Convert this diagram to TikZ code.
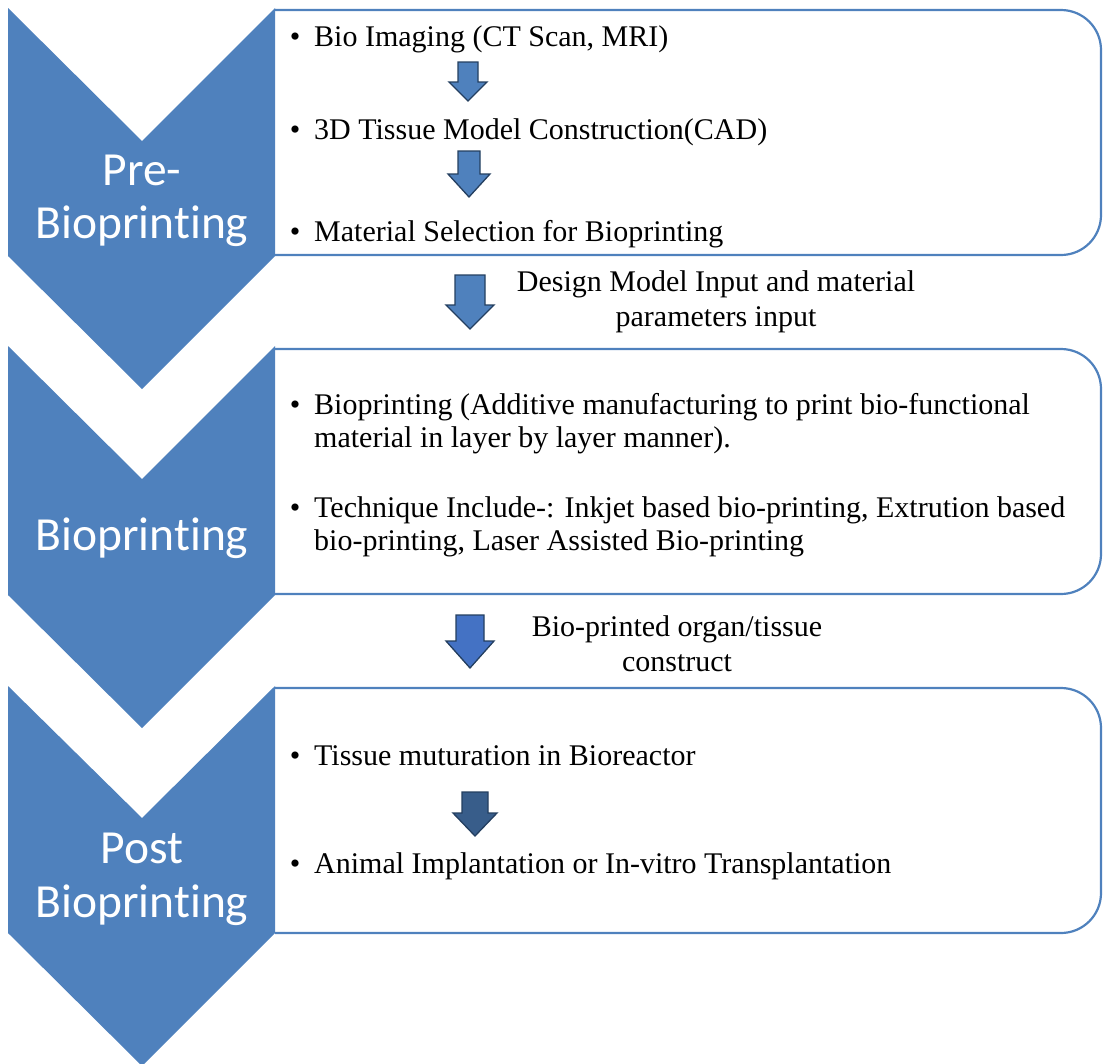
\documentclass[tikz,border=0pt]{standalone}
\usepackage{fontspec}
\setmainfont{Liberation Serif}
\newfontfamily\chevfont[Ligatures=NoCommon]{Carlito}
\definecolor{chevblue}{HTML}{4F81BD}
\definecolor{arrowA}{HTML}{4F81BD}
\definecolor{arrowB}{HTML}{4472C4}
\definecolor{arrowC}{HTML}{385D8A}
\definecolor{arrowline}{HTML}{243F60}
\tikzset{
  chevron/.style={fill=chevblue, draw=none},
  stagebox/.style={draw=chevblue, line width=2.2pt, rounded corners=40pt},
  bul/.style={anchor=base, inner sep=0pt, font=\fontsize{30}{33}\selectfont},
  item/.style={anchor=base west, inner sep=0pt, align=left, font=\fontsize{30}{33}\selectfont},
  midlabel/.style={anchor=base, inner sep=0pt, align=center, font=\fontsize{30}{35}\selectfont},
  chevlabel/.style={anchor=base, inner sep=0pt, text=white, align=center, font=\chevfont\fontsize{47.5}{53}\selectfont},
  blockarrow/.style={draw=arrowline, line width=1.3pt, line join=miter}
}
% \barrow{cx}{top}{headstart}{tip}{halfshaft}{halfhead}{colour}
\newcommand{\barrow}[7]{%
  \fill[#7] (#1-#5,-#2) -- (#1+#5,-#2) -- (#1+#5,-#3) -- (#1+#6,-#3) -- (#1,-#4) -- (#1-#6,-#3) -- (#1-#5,-#3) -- cycle;
  \draw[blockarrow] (#1-#5,-#2) -- (#1+#5,-#2) -- (#1+#5,-#3) -- (#1+#6,-#3) -- (#1,-#4) -- (#1-#6,-#3) -- (#1-#5,-#3) -- cycle;
}
\begin{document}
\begin{tikzpicture}[x=1pt,y=1pt]
\useasboundingbox (0,0) rectangle (1103,-1063);
% chevrons
\fill[chevron] (8,-8) -- (142,-141) -- (275,-8) -- (275,-256) -- (142,-389) -- (8,-256) -- cycle;
\fill[chevron] (8,-346) -- (142,-479) -- (275,-346) -- (275,-595) -- (142,-728) -- (8,-595) -- cycle;
\fill[chevron] (8,-686) -- (142,-818) -- (275,-686) -- (275,-933) -- (142,-1066) -- (8,-933) -- cycle;
% boxes
\draw[stagebox] (275,-10) -- (1101,-10) -- (1101,-255) -- (275,-255);
\draw[stagebox] (275,-349) -- (1101,-349) -- (1101,-594) -- (275,-594);
\draw[stagebox] (275,-688) -- (1101,-688) -- (1101,-933) -- (275,-933);
% chevron labels
\node[chevlabel] (pre1) at (142,-185) {Pre-};
\node[chevlabel] (pre2) at (142,-238) {Bioprinting};
\node[chevlabel] (bio) at (142,-550) {Bioprinting};
\node[chevlabel] (post1) at (142,-863) {Post};
\node[chevlabel] (post2) at (142,-917) {Bioprinting};
% box 1 items
\node[bul] (b1) at (295,-46) {•};
\node[item] (t1) at (314,-46) {Bio Imaging (CT Scan, MRI)};
\node[bul] (b2) at (295,-139) {•};
\node[item] (t2) at (314,-139) {3D Tissue Model Construction(CAD)};
\node[bul] (b3) at (295,-241) {•};
\node[item] (t3) at (314,-241) {Material Selection for Bioprinting};
\barrow{468}{62}{82}{101}{10}{19}{arrowA}
\barrow{469}{151}{174}{197}{11}{21}{arrowA}
% between 1 and 2
\barrow{470}{275}{305}{329}{15}{24}{arrowA}
\node[midlabel] (m1) at (716,-326) {Design Model Input and material\\parameters input};
% box 2 items
\node[bul] (b4) at (295,-414) {•};
\node[item] (t4) at (314,-447) {Bioprinting (Additive manufacturing to print bio-functional\\material in layer by layer manner).};
\node[bul] (b5) at (295,-517) {•};
\node[item] (t5) at (314,-550) {Technique Include-: Inkjet based bio-printing, Extrution based\\bio-printing, Laser Assisted Bio-printing};
% between 2 and 3
\barrow{470}{615}{641}{668}{14}{24}{arrowB}
\node[midlabel] (m2) at (677,-671) {Bio-printed organ/tissue\\construct};
% box 3 items
\node[bul] (b6) at (295,-765) {•};
\node[item] (t6) at (314,-765) {Tissue muturation in Bioreactor};
\barrow{475}{792}{813}{836}{13}{22}{arrowC}
\node[bul] (b7) at (295,-873) {•};
\node[item] (t7) at (314,-873) {Animal Implantation or In-vitro Transplantation};
\end{tikzpicture}
\end{document}
